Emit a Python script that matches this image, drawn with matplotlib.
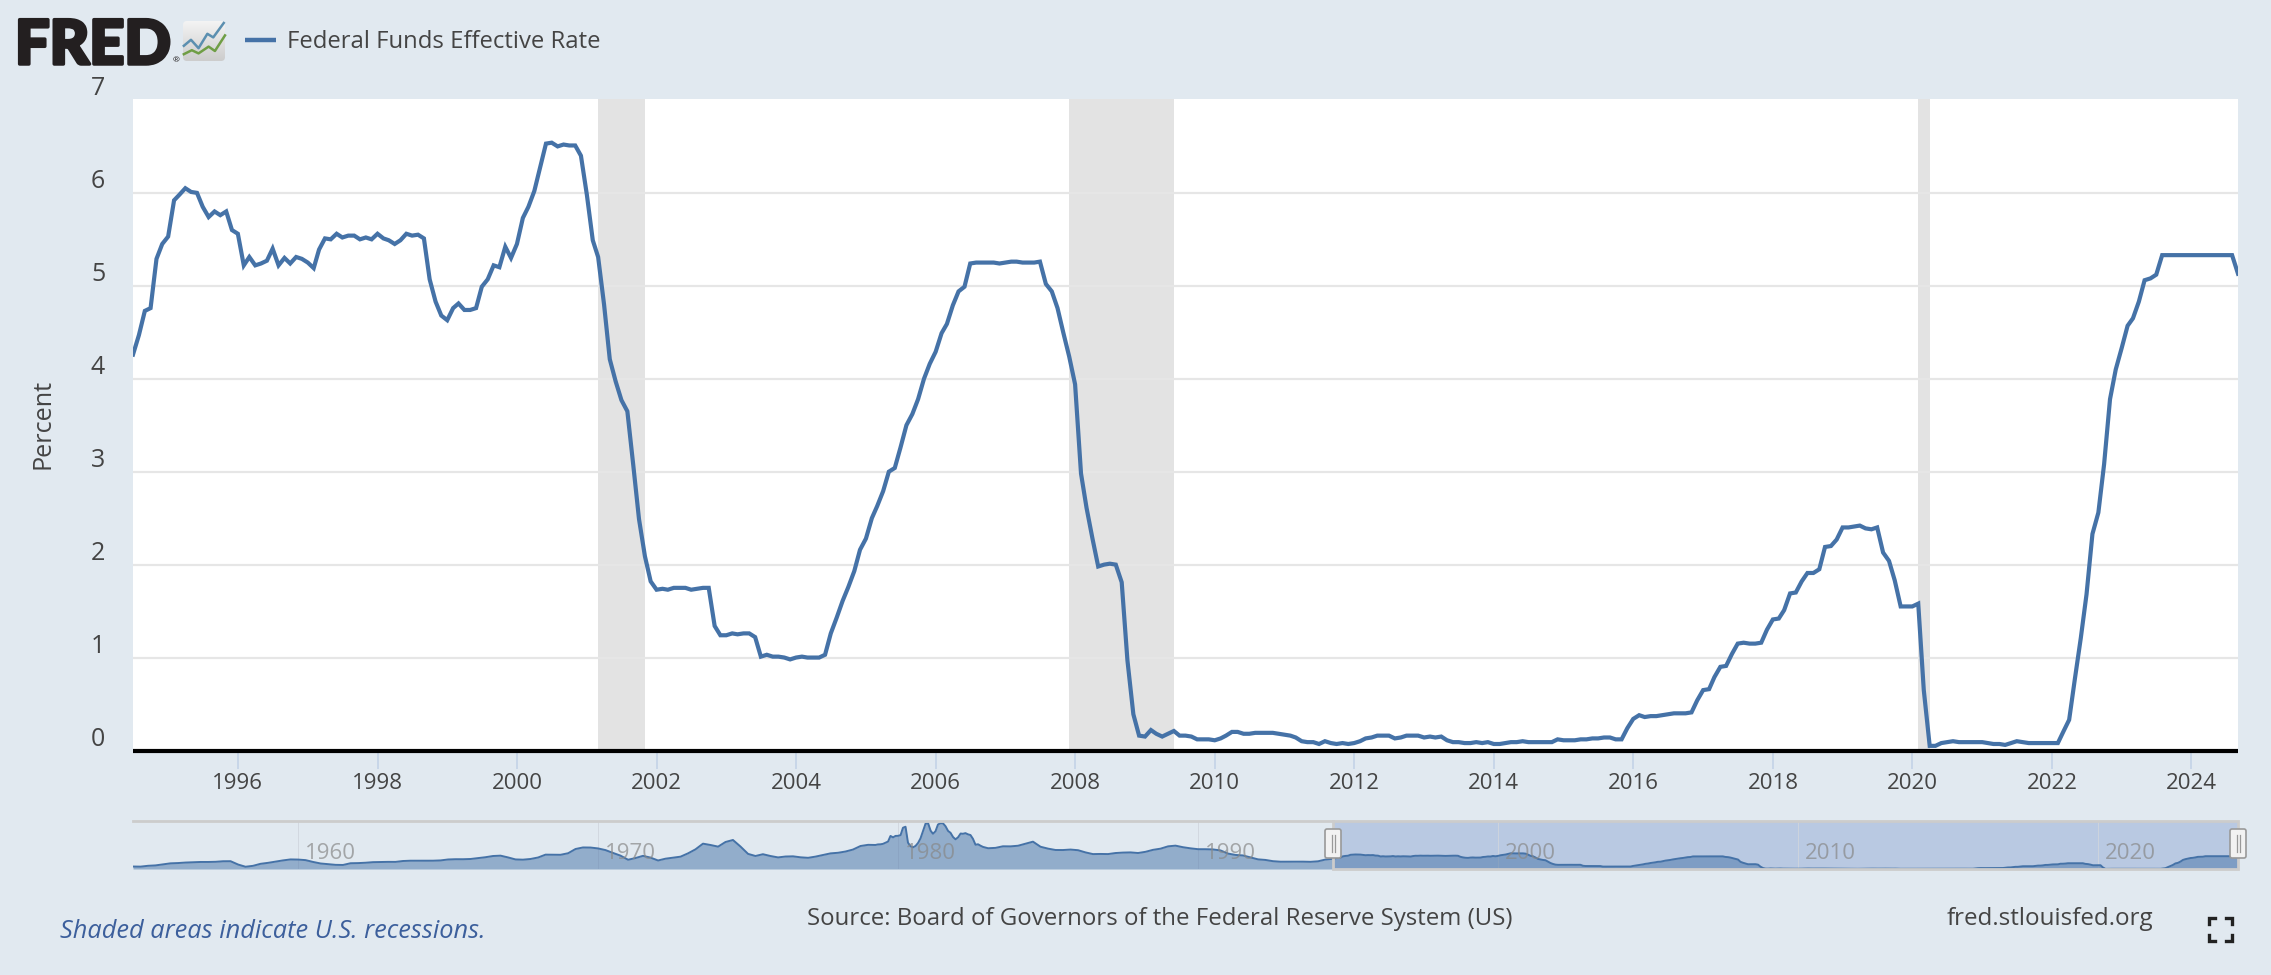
import matplotlib
matplotlib.use('Agg')
import matplotlib.pyplot as plt
import matplotlib.dates as mdates
import matplotlib.patheffects as pe
import numpy as np
import pandas as pd
from matplotlib.colors import LinearSegmentedColormap
from matplotlib.patches import FancyBboxPatch, Rectangle
from matplotlib.transforms import ScaledTranslation

W, H = 2271, 975
DPI = 100
BG = '#e1e9f0'
BLUE = '#4572a7'
TEXT = '#444444'

plt.rcParams['font.family'] = ['Open Sans', 'DejaVu Sans']

# monthly effective rate (starts Jul 1994)
rate_1994 = [4.26, 4.47, 4.73, 4.76, 5.29, 5.45]
rate_1995 = [5.53, 5.92, 5.98, 6.05, 6.01, 6.00, 5.85, 5.74, 5.80, 5.76, 5.80, 5.60]
rate_1996 = [5.56, 5.22, 5.31, 5.22, 5.24, 5.27, 5.40, 5.22, 5.30, 5.24, 5.31, 5.29]
rate_1997 = [5.25, 5.19, 5.39, 5.51, 5.50, 5.56, 5.52, 5.54, 5.54, 5.50, 5.52, 5.50]
rate_1998 = [5.56, 5.51, 5.49, 5.45, 5.49, 5.56, 5.54, 5.55, 5.51, 5.07, 4.83, 4.68]
rate_1999 = [4.63, 4.76, 4.81, 4.74, 4.74, 4.76, 4.99, 5.07, 5.22, 5.20, 5.42, 5.30]
rate_2000 = [5.45, 5.73, 5.85, 6.02, 6.27, 6.53, 6.54, 6.50, 6.52, 6.51, 6.51, 6.40]
rate_2001 = [5.98, 5.49, 5.31, 4.80, 4.21, 3.97, 3.77, 3.65, 3.07, 2.49, 2.09, 1.82]
rate_2002 = [1.73, 1.74, 1.73, 1.75, 1.75, 1.75, 1.73, 1.74, 1.75, 1.75, 1.34, 1.24]
rate_2003 = [1.24, 1.26, 1.25, 1.26, 1.26, 1.22, 1.01, 1.03, 1.01, 1.01, 1.00, 0.98]
rate_2004 = [1.00, 1.01, 1.00, 1.00, 1.00, 1.03, 1.26, 1.43, 1.61, 1.76, 1.93, 2.16]
rate_2005 = [2.28, 2.50, 2.63, 2.79, 3.00, 3.04, 3.26, 3.50, 3.62, 3.78, 4.00, 4.16]
rate_2006 = [4.29, 4.49, 4.59, 4.79, 4.94, 4.99, 5.24, 5.25, 5.25, 5.25, 5.25, 5.24]
rate_2007 = [5.25, 5.26, 5.26, 5.25, 5.25, 5.25, 5.26, 5.02, 4.94, 4.76, 4.49, 4.24]
rate_2008 = [3.94, 2.98, 2.61, 2.28, 1.98, 2.00, 2.01, 2.00, 1.81, 0.97, 0.39, 0.16]
rate_2009 = [0.15, 0.22, 0.18, 0.15, 0.18, 0.21, 0.16, 0.16, 0.15, 0.12, 0.12, 0.12]
rate_2010 = [0.11, 0.13, 0.16, 0.20, 0.20, 0.18, 0.18, 0.19, 0.19, 0.19, 0.19, 0.18]
rate_2011 = [0.17, 0.16, 0.14, 0.10, 0.09, 0.09, 0.07, 0.10, 0.08, 0.07, 0.08, 0.07]
rate_2012 = [0.08, 0.10, 0.13, 0.14, 0.16, 0.16, 0.16, 0.13, 0.14, 0.16, 0.16, 0.16]
rate_2013 = [0.14, 0.15, 0.14, 0.15, 0.11, 0.09, 0.09, 0.08, 0.08, 0.09, 0.08, 0.09]
rate_2014 = [0.07, 0.07, 0.08, 0.09, 0.09, 0.10, 0.09, 0.09, 0.09, 0.09, 0.09, 0.12]
rate_2015 = [0.11, 0.11, 0.11, 0.12, 0.12, 0.13, 0.13, 0.14, 0.14, 0.12, 0.12, 0.24]
rate_2016 = [0.34, 0.38, 0.36, 0.37, 0.37, 0.38, 0.39, 0.40, 0.40, 0.40, 0.41, 0.54]
rate_2017 = [0.65, 0.66, 0.79, 0.90, 0.91, 1.04, 1.15, 1.16, 1.15, 1.15, 1.16, 1.30]
rate_2018 = [1.41, 1.42, 1.51, 1.69, 1.70, 1.82, 1.91, 1.91, 1.95, 2.19, 2.20, 2.27]
rate_2019 = [2.40, 2.40, 2.41, 2.42, 2.39, 2.38, 2.40, 2.13, 2.04, 1.83, 1.55, 1.55]
rate_2020 = [1.55, 1.58, 0.65, 0.05, 0.05, 0.08, 0.09, 0.10, 0.09, 0.09, 0.09, 0.09]
rate_2021 = [0.09, 0.08, 0.07, 0.07, 0.06, 0.08, 0.10, 0.09, 0.08, 0.08, 0.08, 0.08]
rate_2022 = [0.08, 0.08, 0.20, 0.33, 0.77, 1.21, 1.68, 2.33, 2.56, 3.08, 3.78, 4.10]
rate_2023 = [4.33, 4.57, 4.65, 4.83, 5.06, 5.08, 5.12, 5.33, 5.33, 5.33, 5.33, 5.33]
rate_2024 = [5.33, 5.33, 5.33, 5.33, 5.33, 5.33, 5.33, 5.33, 5.13]

# navigator history before the main window: quarterly, monthly through the 1979-82 spikes
hist_q_1954_78 = [1.03, 0.99, 1.34, 1.50, 1.94, 2.36, 2.48, 2.69, 2.81, 2.93, 2.93, 3.00, 3.23, 3.25,
                  1.86, 0.94, 1.32, 2.16, 2.57, 3.08, 3.58, 3.99,
                  3.93, 3.70, 2.94, 2.30, 2.00, 1.73, 1.68, 2.40, 2.46, 2.61, 2.85, 2.92, 2.97, 2.96, 3.33, 3.45,
                  3.46, 3.49, 3.46, 3.58, 3.97, 4.08, 4.07, 4.17, 4.56, 4.91, 5.41, 5.56, 4.82, 3.99, 3.89, 4.17,
                  4.79, 5.98, 5.94, 5.92, 6.57, 8.33, 8.98, 8.94,
                  8.57, 7.88, 6.70, 5.57, 3.86, 4.56, 5.48, 4.75, 3.55, 4.30, 4.74, 5.14, 6.54, 8.20, 10.56, 10.00,
                  9.32, 11.25, 12.09, 9.35, 6.30, 5.42, 6.16, 5.41, 4.83, 5.20, 5.28, 4.87, 4.66, 5.16, 5.82, 6.51,
                  6.76, 7.28, 8.10, 9.58]
hist_m_1979 = [10.07, 10.06, 10.09, 10.01, 10.24, 10.29, 10.47, 10.94, 11.43, 13.77, 13.18, 13.78]
hist_m_1980 = [13.82, 14.13, 17.19, 17.61, 10.98, 9.47, 9.03, 9.61, 10.87, 12.81, 15.85, 18.90]
hist_m_1981 = [19.08, 15.93, 14.70, 15.72, 18.52, 19.10, 19.04, 17.82, 15.87, 15.08, 13.31, 12.37]
hist_m_1982 = [13.22, 14.78, 14.68, 14.94, 14.45, 14.15, 12.59, 10.12, 10.31, 9.71, 9.20, 8.95]
hist_q_1983_94 = [8.65, 8.80, 9.46, 9.43, 9.69, 10.56, 11.39, 9.27, 8.48, 7.92, 7.90, 8.10,
                  7.83, 6.92, 6.21, 6.27, 6.22, 6.65, 6.84, 6.92, 6.66, 7.16, 7.98, 8.47, 9.44, 9.73, 9.08, 8.61,
                  8.25, 8.24, 8.16, 7.74, 6.43, 5.86, 5.65, 4.82, 4.02, 3.77, 3.26, 3.04, 3.04, 3.00, 3.06, 2.99,
                  3.21, 3.94]

recession_starts = ['2001-03-01', '2007-12-01', '2020-02-01']
recession_ends = ['2001-11-01', '2009-06-01', '2020-04-01']

y_ticks = [0, 1, 2, 3, 4, 5, 6, 7]
x_tick_years = [1996, 1998, 2000, 2002, 2004, 2006, 2008, 2010, 2012, 2014, 2016, 2018, 2020, 2022, 2024]
nav_tick_years = [1960, 1970, 1980, 1990, 2000, 2010, 2020]

# FRED logo mark, in icon-box fractions
icon_blue_x = [0.02, 0.19, 0.37, 0.58, 0.72, 0.97]
icon_blue_y = [0.38, 0.53, 0.32, 0.68, 0.59, 0.95]
icon_green_x = [0.02, 0.21, 0.37, 0.61, 0.76, 1.00]
icon_green_y = [0.17, 0.27, 0.19, 0.36, 0.25, 0.64]

rates = (rate_1994 + rate_1995 + rate_1996 + rate_1997 + rate_1998 + rate_1999 + rate_2000 + rate_2001
         + rate_2002 + rate_2003 + rate_2004 + rate_2005 + rate_2006 + rate_2007 + rate_2008 + rate_2009
         + rate_2010 + rate_2011 + rate_2012 + rate_2013 + rate_2014 + rate_2015 + rate_2016 + rate_2017
         + rate_2018 + rate_2019 + rate_2020 + rate_2021 + rate_2022 + rate_2023 + rate_2024)
dates = pd.date_range('1994-07-01', periods=len(rates), freq='MS')

hist_m = hist_m_1979 + hist_m_1980 + hist_m_1981 + hist_m_1982
nav_dates = (pd.date_range('1954-07-01', periods=len(hist_q_1954_78), freq='QS-JAN')
             .append(pd.date_range('1979-01-01', periods=len(hist_m), freq='MS'))
             .append(pd.date_range('1983-01-01', periods=len(hist_q_1983_94), freq='QS-JAN'))
             .append(dates))
nav_vals = hist_q_1954_78 + hist_m + hist_q_1983_94 + rates


def add_axes_px(fig, left, top, right, bottom):
    return fig.add_axes([left / W, 1 - bottom / H, (right - left) / W, (bottom - top) / H])


fig = plt.figure(figsize=(W / DPI, H / DPI), dpi=DPI, facecolor=BG)

# main panel
ax = add_axes_px(fig, 133, 99, 2238, 750.5)
ax.set_facecolor('white')
for start, end in zip(recession_starts, recession_ends):
    ax.axvspan(pd.Timestamp(start), pd.Timestamp(end), color='#e3e3e3', lw=0, zorder=1)
ax.plot(dates, rates, color=BLUE, lw=3.0, solid_joinstyle='miter', zorder=3)
ax.set_xlim(dates[0], dates[-1])
ax.set_ylim(0, 7.01)
ax.set_yticks(y_ticks)
ax.set_xticks([pd.Timestamp(year=y, month=1, day=1) for y in x_tick_years])
ax.xaxis.set_major_formatter(mdates.DateFormatter('%Y'))
ax.grid(axis='y', color='#e6e6e6', lw=1.6)
ax.set_axisbelow(False)
for line in ax.get_ygridlines():
    line.set_zorder(2)
ax.get_ygridlines()[-1].set_visible(False)
for name in ['top', 'left', 'right']:
    ax.spines[name].set_visible(False)
ax.spines['bottom'].set_color('black')
ax.spines['bottom'].set_linewidth(3.0)
ax.spines['bottom'].set_capstyle('butt')
ax.spines['bottom'].set_zorder(5)
ax.tick_params(axis='y', length=0, pad=20, labelsize=18, labelcolor=TEXT)
ax.tick_params(axis='x', length=13, width=1.4, color='#c8d6e8', pad=3, labelsize=16, labelcolor=TEXT)
shift = ScaledTranslation(0, 14 / DPI, fig.dpi_scale_trans)
for lab in ax.get_yticklabels():
    lab.set_transform(lab.get_transform() + shift)
fig.text(43 / W, 1 - 424 / H, 'Percent', rotation=90, ha='center', va='center', fontsize=18.2, color=TEXT)

# navigator strip
nav = add_axes_px(fig, 133, 821, 2238, 869)
nav.set_facecolor('none')
nav.set_xlim(nav_dates[0], nav_dates[-1])
nav.set_ylim(0, 20)
nav.axvspan(dates[0], dates[-1], color='#b9c9e2', lw=0, zorder=0)
nav.fill_between(nav_dates, nav_vals, 0, color=BLUE, alpha=0.5, lw=0, zorder=2)
nav.plot(nav_dates, nav_vals, color=BLUE, lw=1.4, zorder=3)
for year in nav_tick_years:
    d = pd.Timestamp(year=year, month=1, day=1)
    nav.axvline(d, color='#d0d5dd', lw=0.6, zorder=1)
    nav.annotate(str(year), (d, 0), xycoords=('data', 'axes fraction'), xytext=(5, 11), textcoords='offset points',
                 va='center', ha='left', fontsize=16, color='#888888', alpha=0.7, zorder=4)
nav.set_xticks([])
nav.set_yticks([])
for name in nav.spines:
    nav.spines[name].set_visible(False)
nav.plot([nav_dates[0], dates[0]], [1, 1], transform=nav.get_xaxis_transform(), color='#cccccc', lw=2, clip_on=False, zorder=5)
nav.add_patch(Rectangle((mdates.date2num(dates[0]), 0), mdates.date2num(dates[-1]) - mdates.date2num(dates[0]), 1,
                        transform=nav.get_xaxis_transform(), fill=False, ec='#cccccc', lw=2, clip_on=False, zorder=5))

# overlay in pixel coordinates for logo, handles and the fullscreen mark
over = fig.add_axes([0, 0, 1, 1], facecolor='none')
over.axis('off')

# logo
box_l, box_t, box_w, box_h = 183, 21, 42, 40
icon_bg = np.linspace(0, 1, 32).reshape(-1, 1)
cmap = LinearSegmentedColormap.from_list('ic', ['#f3f3f3', '#cdcdcd'])
im = over.imshow(icon_bg, cmap=cmap, extent=(box_l, box_l + box_w, box_t + box_h, box_t), aspect='auto', zorder=1)
over.set_xlim(0, W)
over.set_ylim(H, 0)
clip = FancyBboxPatch((box_l, box_t), box_w, box_h, boxstyle='round,pad=0,rounding_size=4', transform=over.transData, fc='none', ec='none')
over.add_patch(clip)
im.set_clip_path(clip)

for cx in [1333, 2238]:
    over.add_patch(FancyBboxPatch((cx - 7, 830), 14, 27, boxstyle='round,pad=1,rounding_size=2', fc='#f2f2f2', ec='#999999', lw=1.2, zorder=6))
    over.plot([cx - 1.5, cx - 1.5], [835, 852], color='#999999', lw=0.9, zorder=7)
    over.plot([cx + 1.5, cx + 1.5], [835, 852], color='#999999', lw=0.9, zorder=7)

over.text(15, 41, 'FRED', fontsize=44, fontweight='black', family=['Lato', 'DejaVu Sans'], color='#231f20', ha='left', va='center_baseline',
          path_effects=[pe.withStroke(linewidth=2.5, foreground='#231f20')])
over.text(176, 61, '®', fontsize=6, color='#231f20', ha='center', va='center')
over.plot(box_l + np.array(icon_blue_x) * box_w, box_t + box_h - np.array(icon_blue_y) * box_h, color='#5b8fb0', lw=1.8, zorder=2)
over.plot(box_l + np.array(icon_green_x) * box_w, box_t + box_h - np.array(icon_green_y) * box_h, color='#6f9e45', lw=1.8, zorder=2)

# legend
over.plot([245, 276], [40, 40], color=BLUE, lw=3.2, solid_capstyle='butt')
over.text(287, 42, 'Federal Funds Effective Rate', fontsize=17.2, fontweight='medium', color=TEXT, ha='left', va='center')

# footer
over.text(60, 931, 'Shaded areas indicate U.S. recessions.', fontsize=18.3, style='italic', color='#3c5f9c', ha='left', va='center')
over.text(807, 919, 'Source: Board of Governors of the Federal Reserve System (US)', fontsize=17.3, color=TEXT, ha='left', va='center')
over.text(1947, 919, 'fred.stlouisfed.org', fontsize=17.4, color=TEXT, ha='left', va='center')

# fullscreen corners
for x0, y0, dx, dy in [(2209, 918, 1, 1), (2232, 918, -1, 1), (2209, 941, 1, -1), (2232, 941, -1, -1)]:
    over.plot([x0 + 6 * dx, x0, x0], [y0, y0, y0 + 6 * dy], color='#222222', lw=2.4, solid_joinstyle='miter')

fig.savefig('out.png', dpi=DPI, facecolor=BG)
